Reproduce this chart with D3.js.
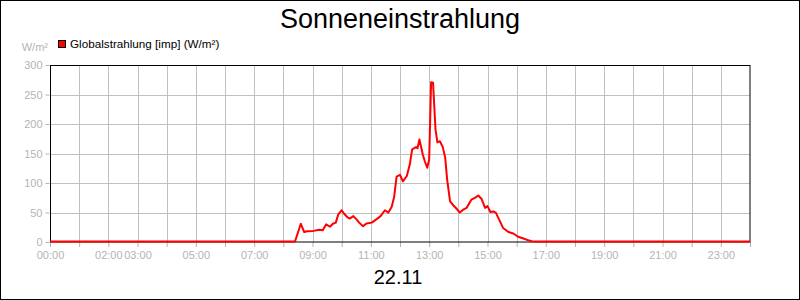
<!DOCTYPE html>
<html><head><meta charset="utf-8">
<script src="https://cdn.jsdelivr.net/npm/d3@7"></script>
<style>body{margin:0;background:#fff}svg{display:block}text{font-family:Arial,"Liberation Sans",sans-serif}</style>
</head><body>
<svg id="c" width="800" height="300"></svg>
<script>
const title = "Sonneneinstrahlung";
const dateLabel = "22.11";
const unitLabel = "W/m²";
const seriesName = "Globalstrahlung [imp] (W/m²)";
const times = ["00:00","08:24","08:36","08:43","08:49","09:02","09:14","09:21","09:28","09:36","09:42","09:48","09:53","10:00","10:05","10:12","10:17","10:24","10:31","10:36","10:44","10:51","11:02","11:12","11:20","11:29","11:36","11:43","11:48","11:53","12:00","12:06","12:14","12:20","12:25","12:33","12:36","12:40","12:47","12:51","12:56","13:00","13:04","13:08","13:13","13:17","13:22","13:28","13:33","13:37","13:43","13:50","13:57","14:03","14:10","14:17","14:27","14:34","14:41","14:48","14:55","15:00","15:06","15:12","15:17","15:24","15:32","15:43","15:53","16:03","16:14","16:24","16:31","16:40","24:00"];
const values = [0,0,30,16,17.5,18,20,19,29,25,30,32,46,53,47,41,39,43,37,32,26,30.5,32,38,43,53,49,59,76,110,113,102,111,130,156,160,158,173,147,136,125,139,270,269,190,168,170,160,142,105,68,61,55,49,54,57,71,74,78,72,57,60,50,51,49,37,23,16,13.5,8,5,2,0.5,0,0];
const yTicks = [0,50,100,150,200,250,300];
const xTickLabels = ["00:00","02:00","03:00","05:00","07:00","09:00","11:00","13:00","15:00","17:00","19:00","21:00","23:00"];

const toH = s => { const [h,m] = s.split(":").map(Number); return h + m/60; };
const data = times.map((t,i) => ({x: toH(t), y: values[i]}));

const svg = d3.select("#c");
const L = 50, R = 750, T = 65, B = 242;
const x = d3.scaleLinear().domain([0,24]).range([L,R]);
const y = d3.scaleLinear().domain([0,300]).range([B,T]);
const gridC = "#c0c0c0", labC = "#b4b4b4";

svg.append("rect").attr("x",0.5).attr("y",0.5).attr("width",799).attr("height",299)
  .attr("fill","#fff").attr("stroke","#000");

// grid
const hours = d3.range(1,24);
svg.append("g").selectAll("line").data(hours).join("line")
  .attr("x1",d=>Math.round(x(d))+0.5).attr("x2",d=>Math.round(x(d))+0.5)
  .attr("y1",T).attr("y2",B).attr("stroke",gridC);
svg.append("g").selectAll("line").data(yTicks.slice(1,-1)).join("line")
  .attr("x1",L).attr("x2",R)
  .attr("y1",d=>Math.round(y(d))+0.5).attr("y2",d=>Math.round(y(d))+0.5).attr("stroke",gridC);

// y axis
const yAxis = d3.axisLeft(y).tickValues(yTicks).tickSize(4).tickPadding(3);
const gy = svg.append("g").attr("transform",`translate(${L-0.5},0)`).call(yAxis);
gy.select(".domain").remove();
gy.selectAll(".tick line").attr("stroke",labC);
gy.selectAll(".tick text").attr("fill",labC).style("font-size","11px").style("font-family","Arial,'Liberation Sans',sans-serif");

// x axis
const xAxis = d3.axisBottom(x).tickValues(d3.range(0,25)).tickSize(5).tickPadding(4)
  .tickFormat(d => { const s = String(d).padStart(2,"0")+":00"; return xTickLabels.includes(s) ? s : ""; });
const gx = svg.append("g").attr("transform",`translate(0,${B})`).call(xAxis);
gx.select(".domain").remove();
gx.selectAll(".tick line").attr("stroke",labC);
gx.selectAll(".tick text").attr("fill",labC).style("font-size","11px").style("font-family","Arial,'Liberation Sans',sans-serif");

// frame
svg.append("rect").attr("x",L+0.5).attr("y",T+0.5).attr("width",R-L-0.5).attr("height",B-T-0.5)
  .attr("fill","none").attr("stroke","#000");

// line
const line = d3.line().x(d=>x(d.x)).y(d=>y(d.y)-0.5);
svg.append("path").datum(data).attr("d",line).attr("fill","none")
  .attr("stroke","#ff0000").attr("stroke-width",2).attr("stroke-linejoin","round");

// texts
svg.append("text").attr("x",400).attr("y",28).attr("text-anchor","middle")
  .style("font-size","27px").text(title);
svg.append("text").attr("x",398).attr("y",284).attr("text-anchor","middle")
  .style("font-size","20px").text(dateLabel);
svg.append("text").attr("x",48).attr("y",51).attr("text-anchor","end")
  .attr("fill",labC).style("font-size","11px").text(unitLabel);
svg.append("rect").attr("x",58.5).attr("y",40.5).attr("width",7).attr("height",7)
  .attr("fill","#ff0000").attr("stroke","#000");
svg.append("text").attr("x",70).attr("y",48).style("font-size","11.7px").text(seriesName);
</script>
</body></html>
